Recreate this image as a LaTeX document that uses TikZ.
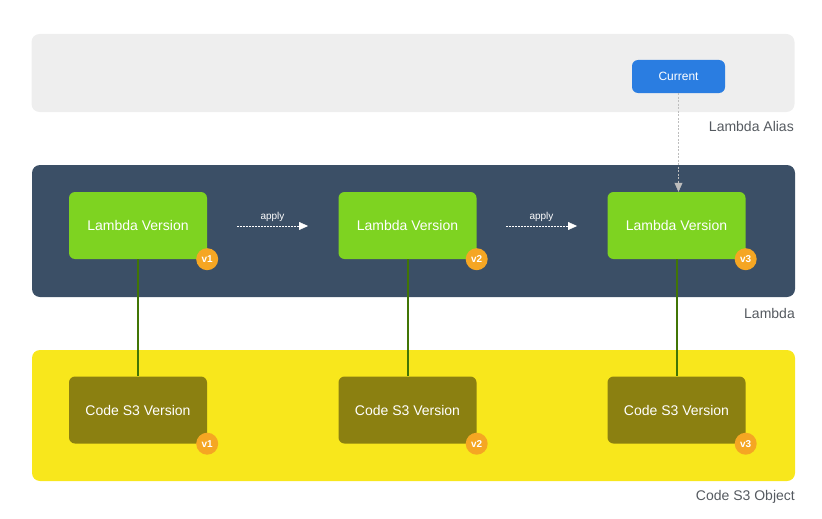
\documentclass[tikz,border=0pt]{standalone}
\usepackage{fontspec}
\setmainfont{Liberation Sans}
\usetikzlibrary{arrows.meta}
\definecolor{aliasgray}{HTML}{EEEEEE}
\definecolor{lambdablue}{HTML}{3B4F66}
\definecolor{codeyellow}{HTML}{F8E71C}
\definecolor{currentblue}{HTML}{2A7DE1}
\definecolor{versiongreen}{HTML}{7ED321}
\definecolor{codeolive}{HTML}{8B8011}
\definecolor{badgeorange}{HTML}{F5A623}
\definecolor{linkgreen}{HTML}{417505}
\definecolor{labelgray}{HTML}{555A60}
\definecolor{pointergray}{HTML}{BDBDBD}
\begin{document}
\begin{tikzpicture}%
[x=1pt, y=-1pt,%
band/.style={rounded corners=8pt, inner sep=0pt, minimum width=763pt},%
version/.style={rounded corners=6pt, inner sep=0pt, minimum width=138pt, minimum height=67pt, text=white, font=\fontsize{14}{16}\selectfont},%
badge/.style={fill=badgeorange, circle, inner sep=0pt, minimum size=22pt, text=white, font=\fontsize{10}{12}\selectfont\bfseries},%
caption/.style={anchor=east, inner sep=0pt, text=labelgray, font=\fontsize{14}{16}\selectfont},%
applyarrow/.style={white, dash pattern=on 2pt off 1pt, -{Triangle[width=8pt,length=9pt]}},%
link/.style={linkgreen, line width=2pt}]
\useasboundingbox (0,0) rectangle (822,519);
% bands
\node[band, fill=aliasgray, minimum height=78pt] (alias) at (413,73) {};
\node[band, fill=lambdablue, minimum height=132pt] (lambda) at (413.5,231) {};
\node[band, fill=codeyellow, minimum height=131pt] (code) at (413.5,415.5) {};
\node[caption] (aliaslabel) at (794,126) {Lambda Alias};
\node[caption] (lambdalabel) at (795,313) {Lambda};
\node[caption] (codelabel) at (795,497) {Code S3 Object};
% alias
\node[fill=currentblue, rounded corners=6pt, minimum width=93pt, minimum height=33pt, text=white,
  font=\fontsize{12}{14}\selectfont] (current) at (678.5,76.5) {Current};
% lambda versions
\node[version, fill=versiongreen] (lv1) at (138,225.5) {Lambda Version};
\node[version, fill=versiongreen] (lv2) at (407.5,225.5) {Lambda Version};
\node[version, fill=versiongreen] (lv3) at (676.5,225.5) {Lambda Version};
\node[badge] (lb1) at (lv1.south east) {v1};
\node[badge] (lb2) at (lv2.south east) {v2};
\node[badge] (lb3) at (lv3.south east) {v3};
% code versions
\node[version, fill=codeolive] (cv1) at (138,410) {Code S3 Version};
\node[version, fill=codeolive] (cv2) at (407.5,410) {Code S3 Version};
\node[version, fill=codeolive] (cv3) at (676.5,410) {Code S3 Version};
\node[badge] (cb1) at (cv1.south east) {v1};
\node[badge] (cb2) at (cv2.south east) {v2};
\node[badge] (cb3) at (cv3.south east) {v3};
% connectors
\coordinate (a1) at (237,226);
\coordinate (a2) at (308,226);
\coordinate (a3) at (506,226);
\coordinate (a4) at (577,226);
\draw[applyarrow] (a1) -- node[above=1pt, text=white, font=\fontsize{10}{12}\selectfont] {apply} (a2);
\draw[applyarrow] (a3) -- node[above=1pt, text=white, font=\fontsize{10}{12}\selectfont] {apply} (a4);
\draw[pointergray, dash pattern=on 2pt off 1.5pt, -{Triangle[width=8pt,length=9pt]}]
  (current.south) -- (current.south |- lv3.north);
\draw[link] (lv1) -- (cv1);
\draw[link] (lv2) -- (cv2);
\draw[link] (lv3) -- (cv3);
\end{tikzpicture}
\end{document}
